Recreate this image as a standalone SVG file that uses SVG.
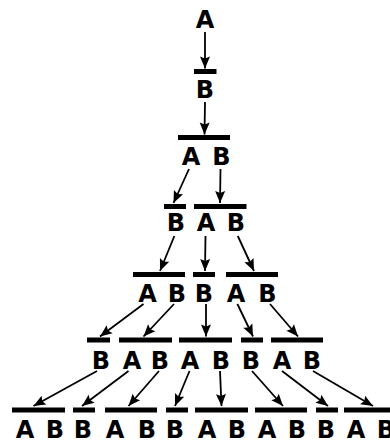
<svg xmlns="http://www.w3.org/2000/svg" width="390" height="441" viewBox="0 0 390 441">
<style>
text{font-family:"DejaVu Sans",sans-serif;font-weight:bold;font-size:24px;fill:#000;text-anchor:middle}
.bar{fill:#000}
.arr line{stroke:#000;stroke-width:1.8;marker-end:url(#ah)}
</style>
<defs>
<marker id="ah" markerUnits="userSpaceOnUse" markerWidth="12" markerHeight="10" refX="12" refY="5" orient="auto" overflow="visible">
<path d="M0,0 L12,5 L0,10 L2,5 Z" fill="#000"/>
</marker>
</defs>
<rect width="390" height="441" fill="#fff"/>
<g id="level0"><text x="205" y="27.5">A</text></g>
<g id="level1"><rect class="bar" x="194" y="69" width="22.5" height="5"/><text x="205" y="97.5">B</text></g>
<g id="level2"><rect class="bar" x="178" y="135" width="52" height="5"/><text x="191" y="164.5">A</text><text x="221.5" y="164.5">B</text></g>
<g id="level3">
<rect class="bar" x="164" y="204" width="22" height="5"/><rect class="bar" x="194" y="204" width="52.5" height="5"/>
<text x="176" y="230.5">B</text><text x="206" y="230.5">A</text><text x="236" y="230.5">B</text></g>
<g id="level4">
<rect class="bar" x="133" y="272" width="52" height="5"/><rect class="bar" x="193" y="272" width="22" height="5"/><rect class="bar" x="226" y="272" width="52" height="5"/>
<text x="147.5" y="301.5">A</text><text x="177" y="301.5">B</text><text x="204" y="301.5">B</text><text x="236" y="301.5">A</text><text x="267.5" y="301.5">B</text></g>
<g id="level5">
<rect class="bar" x="87" y="337.5" width="23" height="5"/><rect class="bar" x="119" y="337.5" width="53" height="5"/><rect class="bar" x="179" y="337.5" width="53" height="5"/><rect class="bar" x="241" y="337.5" width="22" height="5"/><rect class="bar" x="271" y="337.5" width="52" height="5"/>
<text x="101" y="368.5">B</text><text x="132" y="368.5">A</text><text x="160" y="368.5">B</text><text x="190" y="368.5">A</text><text x="221" y="368.5">B</text><text x="251" y="368.5">B</text><text x="282" y="368.5">A</text><text x="312" y="368.5">B</text></g>
<g id="level6">
<rect class="bar" x="12" y="407.5" width="53" height="5"/><rect class="bar" x="73" y="407.5" width="22" height="5"/><rect class="bar" x="105" y="407.5" width="52" height="5"/><rect class="bar" x="166" y="407.5" width="22" height="5"/><rect class="bar" x="195" y="407.5" width="53" height="5"/><rect class="bar" x="255" y="407.5" width="52" height="5"/><rect class="bar" x="316" y="407.5" width="22" height="5"/><rect class="bar" x="344" y="407.5" width="54" height="5"/>
<text x="25" y="437.5">A</text><text x="55" y="437.5">B</text><text x="83" y="437.5">B</text><text x="115" y="437.5">A</text><text x="147" y="437.5">B</text><text x="175" y="437.5">B</text><text x="207" y="437.5">A</text><text x="237" y="437.5">B</text><text x="267" y="437.5">A</text><text x="297" y="437.5">B</text><text x="326" y="437.5">B</text><text x="356" y="437.5">A</text><text x="386" y="437.5">B</text></g>
<g id="connectors" class="arr">
<line x1="205" y1="32" x2="205" y2="68.5"/>
<line x1="205" y1="102" x2="204.5" y2="134.5"/>
<line x1="189" y1="169" x2="173.5" y2="203"/>
<line x1="220.5" y1="169" x2="220" y2="203"/>
<line x1="174.4" y1="236" x2="160" y2="271"/>
<line x1="205.5" y1="236" x2="205" y2="271"/>
<line x1="237.8" y1="236" x2="254" y2="271"/>
<line x1="143.5" y1="304" x2="100" y2="336.5"/>
<line x1="174" y1="304" x2="143.5" y2="336.5"/>
<line x1="206" y1="304" x2="206" y2="336.5"/>
<line x1="237.4" y1="304" x2="253" y2="336.5"/>
<line x1="270" y1="304" x2="298" y2="336.5"/>
<line x1="97" y1="371" x2="33.5" y2="406"/>
<line x1="128.5" y1="371" x2="82" y2="406"/>
<line x1="159" y1="371" x2="128.5" y2="406"/>
<line x1="189.5" y1="371" x2="175" y2="406"/>
<line x1="220" y1="371" x2="221.5" y2="406"/>
<line x1="252" y1="371" x2="283" y2="406"/>
<line x1="282" y1="371" x2="328" y2="406"/>
<line x1="313" y1="371" x2="373" y2="406"/>
</g>
</svg>
